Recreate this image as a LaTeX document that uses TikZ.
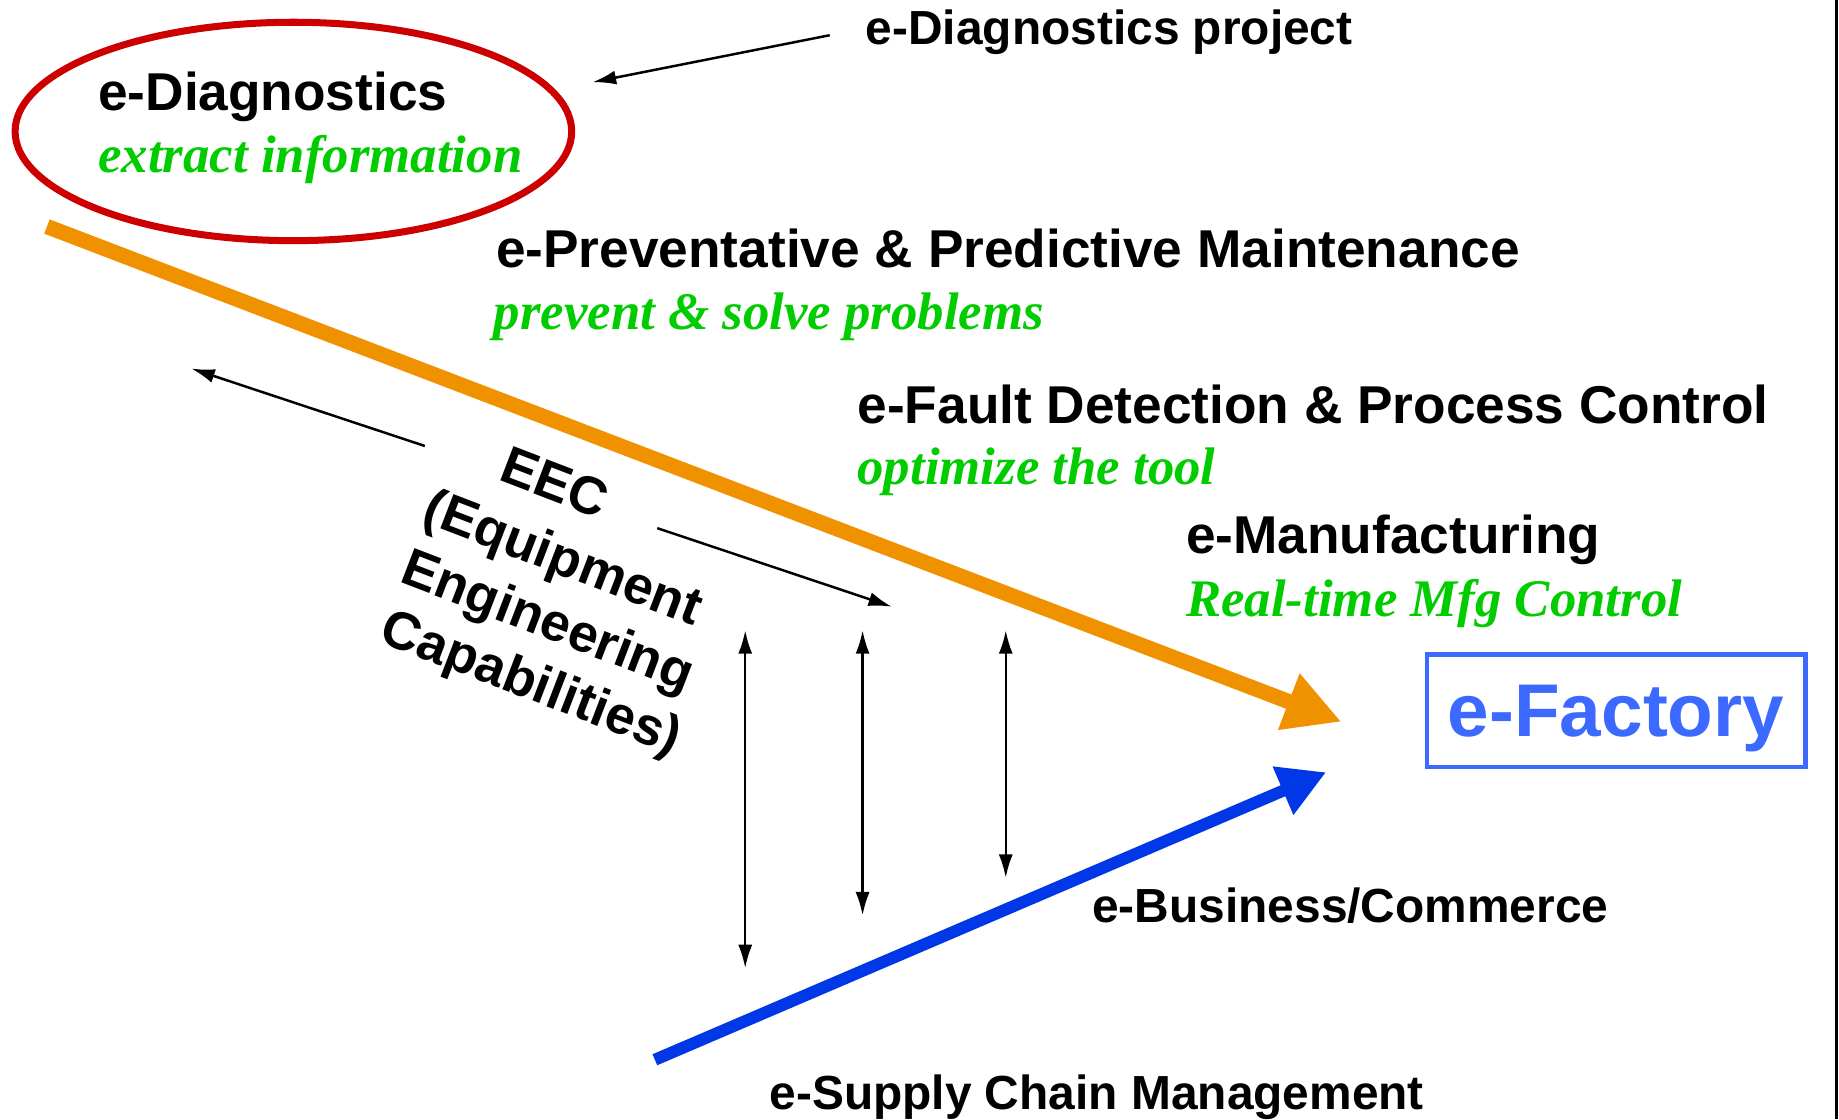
\documentclass[tikz,border=0pt]{standalone}
\usepackage{fontspec}
\setmainfont{Liberation Sans}
\newfontfamily\aimfont{Liberation Serif}
\usetikzlibrary{arrows.meta,positioning,shapes.geometric}
\definecolor{colred}{RGB}{204,0,0}
\definecolor{colgreen}{RGB}{0,204,0}
\definecolor{colorange}{RGB}{240,145,0}
\definecolor{colblue}{RGB}{0,55,230}
\definecolor{colfact}{RGB}{60,105,255}
\tikzstyle{stage}=[anchor=base west, inner sep=0pt, font=\bfseries\fontsize{12.9}{16.2}\selectfont]
\tikzstyle{minor}=[anchor=base west, inner sep=0pt, font=\bfseries\fontsize{11.6}{14}\selectfont]
\tikzstyle{aim}=[anchor=base west, inner sep=0pt, text=colgreen, font=\aimfont\bfseries\itshape\fontsize{12.8}{16}\selectfont]
\tikzstyle{eecline}=[rotate=-21, inner sep=0pt, font=\bfseries\fontsize{12.9}{16.2}\selectfont]
\tikzstyle{link}=[-{Latex[length=0.2cm,width=0.12cm]}, line width=0.6pt]
\tikzstyle{both}=[{Latex[length=0.2cm,width=0.12cm]}-{Latex[length=0.2cm,width=0.12cm]}, line width=0.6pt]
\tikzstyle{flow}=[line width=3.7pt, -{Triangle[length=0.48cm,width=0.48cm]}]

\begin{document}
\begin{tikzpicture}[x=0.01cm,y=-0.01cm]
    \useasboundingbox (0,0) rectangle (1567,953.5);
    \node [draw=colred, line width=1.7pt, ellipse, minimum width=4.74cm, minimum height=1.86cm] (diag) at (250,112) {};
    \node [stage] (dt) at (83,94) {e-Diagnostics};
    \node [aim] (da) at (83,147) {extract information};
    \node [minor] (proj) at (737,38) {e-Diagnostics project};
    \node [stage] (pm) at (422,228) {e-Preventative \& Predictive Maintenance};
    \node [aim] (pma) at (420,281) {prevent \& solve problems};
    \node [stage] (fd) at (730,361) {e-Fault Detection \& Process Control};
    \node [aim] (fda) at (730,413) {optimize the tool};
    \node [stage] (mfg) at (1010,472) {e-Manufacturing};
    \node [aim] (mfga) at (1010,525) {Real-time Mfg Control};
    \node [minor] (bus) at (930,786) {e-Business/Commerce};
    \node [minor] (scm) at (655,945) {e-Supply Chain Management};
    \node [eecline] (eec1) at (473,411) {EEC};
    \node [eecline] (eec2) at (479,478) {(Equipment};
    \node [eecline] (eec3) at (466,532) {Engineering};
    \node [eecline] (eec4) at (452,584) {Capabilities)};
    \node [draw=colfact, line width=1.2pt, minimum width=3.22cm, minimum height=0.96cm, text depth=0pt, text=colfact, font=\bfseries\fontsize{18.1}{20}\selectfont] (fact) at (1377,605.5) {e-Factory};
    % free ends of the connectors
    \coordinate (pj1) at (707,30);
    \coordinate (pj2) at (505,70);
    \coordinate (o1) at (40,193);
    \coordinate (o2) at (1143,615);
    \coordinate (b1) at (558,903);
    \coordinate (b2) at (1130,658);
    \coordinate (up1) at (362,380);
    \coordinate (up2) at (163,314);
    \coordinate (dn1) at (560,450);
    \coordinate (dn2) at (760,517);
    \coordinate (v1a) at (635,537);
    \coordinate (v1b) at (635,825);
    \coordinate (v2a) at (735,537);
    \coordinate (v2b) at (735,780);
    \coordinate (v3a) at (857,537);
    \coordinate (v3b) at (857,748);
    \coordinate (rt) at (1565,0);
    \coordinate (rb) at (1565,953.5);
    \draw [flow, colorange] (o1) -- (o2);
    \draw [flow, colblue, line width=2.9pt, -{Triangle[length=0.4cm,width=0.42cm]}] (b1) -- (b2);
    \draw [link] (pj1) -- (pj2);
    \draw [link] (up1) -- (up2);
    \draw [link] (dn1) -- (dn2);
    \draw [both] (v1a) -- (v1b);
    \draw [both] (v2a) -- (v2b);
    \draw [both] (v3a) -- (v3b);
    \draw [line width=0.8pt] (rt) -- (rb);
\end{tikzpicture}
\end{document}
